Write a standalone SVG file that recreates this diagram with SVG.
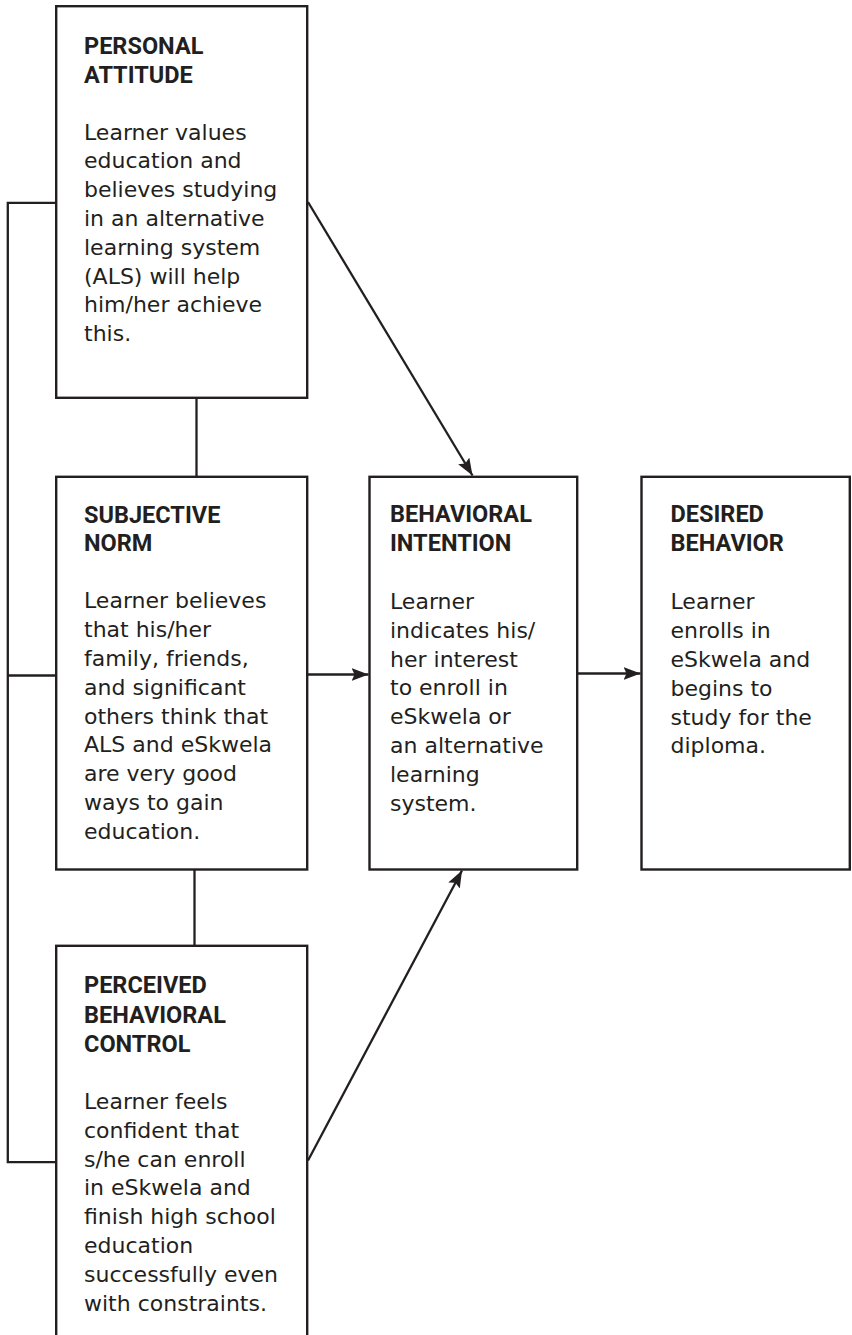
<svg xmlns="http://www.w3.org/2000/svg" width="852" height="1335" viewBox="0 0 852 1335">
<style>
.box{fill:#fff;stroke:#231f20;stroke-width:2.4}
.ln{fill:none;stroke:#231f20;stroke-width:2.3}
.t{font-family:Roboto,"Liberation Sans",sans-serif;font-weight:700;font-size:23.5px;fill:#231f20}
.b{font-family:"DejaVu Sans","Liberation Sans",sans-serif;font-size:22px;fill:#231f20}
</style>
<defs>
<marker id="ah" markerUnits="userSpaceOnUse" markerWidth="18" markerHeight="14" refX="17" refY="6.5" orient="auto">
<path d="M0,0 L17,6.5 L0,13 L3,6.5 z" fill="#231f20"/>
</marker>
</defs>
<rect width="852" height="1335" fill="#fff"/>
<g id="connectors">
<polyline class="ln" points="56,202.8 7.8,202.8 7.8,1162.2 56,1162.2"/>
<line class="ln" x1="7.8" y1="675.5" x2="56" y2="675.5"/>
<line class="ln" x1="196.5" y1="398" x2="196.5" y2="477"/>
<line class="ln" x1="194.5" y1="869.5" x2="194.5" y2="946"/>
<line class="ln" x1="308" y1="202" x2="472.5" y2="475.5" marker-end="url(#ah)"/>
<line class="ln" x1="308" y1="674.5" x2="368.5" y2="674.5" marker-end="url(#ah)"/>
<line class="ln" x1="578" y1="673.5" x2="640.5" y2="673.5" marker-end="url(#ah)"/>
<line class="ln" x1="308" y1="1160.5" x2="462" y2="870.5" marker-end="url(#ah)"/>
</g>
<g id="personal-attitude">
<rect class="box" x="56.2" y="6.2" width="251" height="391.6"/>
<text class="t" x="84" y="54.3">PERSONAL</text>
<text class="t" x="84" y="83">ATTITUDE</text>
<text class="b" x="84" y="139.5">Learner values</text>
<text class="b" x="84" y="168.3">education and</text>
<text class="b" x="84" y="197.1">believes studying</text>
<text class="b" x="84" y="225.9">in an alternative</text>
<text class="b" x="84" y="254.7">learning system</text>
<text class="b" x="84" y="283.5">(ALS) will help</text>
<text class="b" x="84" y="312.3">him/her achieve</text>
<text class="b" x="84" y="341.1">this.</text>
</g>
<g id="subjective-norm">
<rect class="box" x="56.2" y="476.8" width="251" height="392.7"/>
<text class="t" x="84" y="522.5">SUBJECTIVE</text>
<text class="t" x="84" y="551.2">NORM</text>
<text class="b" x="84" y="608.3">Learner believes</text>
<text class="b" x="84" y="637.1">that his/her</text>
<text class="b" x="84" y="665.9">family, friends,</text>
<text class="b" x="84" y="694.7">and significant</text>
<text class="b" x="84" y="723.5">others think that</text>
<text class="b" x="84" y="752.3">ALS and eSkwela</text>
<text class="b" x="84" y="781.1">are very good</text>
<text class="b" x="84" y="809.9">ways to gain</text>
<text class="b" x="84" y="838.7">education.</text>
</g>
<g id="behavioral-intention">
<rect class="box" x="369.5" y="476.8" width="207.7" height="392.7"/>
<text class="t" x="390" y="522">BEHAVIORAL</text>
<text class="t" x="390" y="550.5">INTENTION</text>
<text class="b" x="390" y="609">Learner</text>
<text class="b" x="390" y="637.8">indicates his/</text>
<text class="b" x="390" y="666.6">her interest</text>
<text class="b" x="390" y="695.4">to enroll in</text>
<text class="b" x="390" y="724.2">eSkwela or</text>
<text class="b" x="390" y="753">an alternative</text>
<text class="b" x="390" y="781.8">learning</text>
<text class="b" x="390" y="810.6">system.</text>
</g>
<g id="desired-behavior">
<rect class="box" x="641.5" y="476.8" width="208.3" height="392.7"/>
<text class="t" x="670.5" y="522.3">DESIRED</text>
<text class="t" x="670.5" y="551">BEHAVIOR</text>
<text class="b" x="670.5" y="609.3">Learner</text>
<text class="b" x="670.5" y="638.1">enrolls in</text>
<text class="b" x="670.5" y="666.9">eSkwela and</text>
<text class="b" x="670.5" y="695.7">begins to</text>
<text class="b" x="670.5" y="724.5">study for the</text>
<text class="b" x="670.5" y="753.3">diploma.</text>
</g>
<g id="perceived-behavioral-control">
<rect class="box" x="56.2" y="945.8" width="251" height="420"/>
<text class="t" x="84" y="993.3">PERCEIVED</text>
<text class="t" x="84" y="1022.5">BEHAVIORAL</text>
<text class="t" x="84" y="1051.7">CONTROL</text>
<text class="b" x="84" y="1109">Learner feels</text>
<text class="b" x="84" y="1137.8">confident that</text>
<text class="b" x="84" y="1166.6">s/he can enroll</text>
<text class="b" x="84" y="1195.4">in eSkwela and</text>
<text class="b" x="84" y="1224.2">finish high school</text>
<text class="b" x="84" y="1253">education</text>
<text class="b" x="84" y="1281.8">successfully even</text>
<text class="b" x="84" y="1310.6">with constraints.</text>
</g>
</svg>
